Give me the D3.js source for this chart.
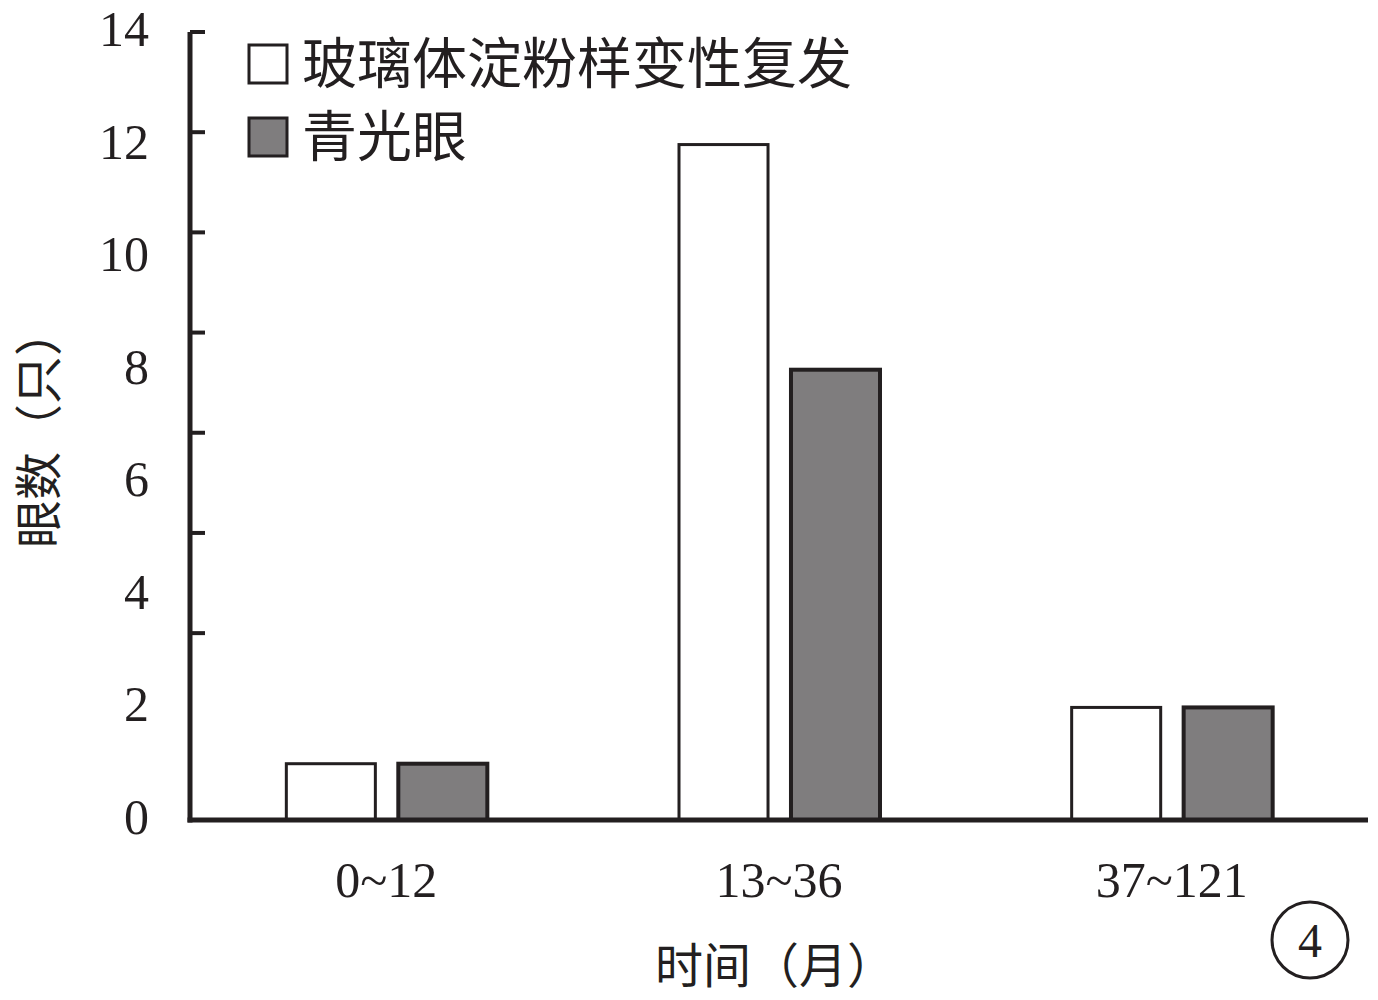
<!DOCTYPE html>
<html><head><meta charset="utf-8">
<script src="https://cdn.jsdelivr.net/npm/d3@7"></script>
<style>body{margin:0;background:#fff}</style>
</head><body>
<svg id="c" width="1378" height="1000"></svg>
<script>
const categories = ["0~12", "13~36", "37~121"];
const seriesNames = ["玻璃体淀粉样变性复发", "青光眼"];
const recurrence = [1, 12, 2];
const glaucoma = [1, 8, 2];
const yTickLabels = [0, 2, 4, 6, 8, 10, 12, 14];
const yTickMarks = [14, 12.22, 10.44, 8.66, 6.88, 5.1, 3.32];
const xTitle = "时间（月）";
const yTitle = "眼数（只）";
const panelMark = "4";

const svg = d3.select("#c");
const ink = "#231f20", grey = "#7f7d7e";
const serif = "'Liberation Serif','DejaVu Serif',serif";
const cjk = "'Noto Sans CJK SC','Noto Sans CJK JP',sans-serif";
const x0 = 190, x1 = 1368, yB = 820, yT = 32;

const x = d3.scaleBand().domain(categories).range([x0, x1]).padding(0);
const y = d3.scaleLinear().domain([0, 14]).range([yB, yT]);
const xs = d3.scaleBand().domain(seriesNames).range([-100, 101]).paddingInner(0.205);

const fills = ["#ffffff", grey];
const data = [recurrence, glaucoma];

// bars
categories.forEach((c, i) => {
  seriesNames.forEach((s, j) => {
    const v = data[j][i];
    const cx = x(c) + x.bandwidth() / 2;
    svg.append("rect")
      .attr("x", cx + xs(s))
      .attr("y", y(v))
      .attr("width", xs.bandwidth())
      .attr("height", y(0) - y(v))
      .attr("fill", fills[j])
      .attr("stroke", ink)
      .attr("stroke-width", j === 0 ? 3 : 4);
  });
});

// axes
svg.append("line").attr("x1", x0).attr("x2", x0).attr("y1", y(14)).attr("y2", yB + 2.5)
  .attr("stroke", ink).attr("stroke-width", 5);
svg.append("line").attr("x1", x0 - 2.5).attr("x2", x1).attr("y1", yB).attr("y2", yB)
  .attr("stroke", ink).attr("stroke-width", 5);
svg.selectAll(".tm").data(yTickMarks).enter().append("line")
  .attr("x1", x0).attr("x2", x0 + 15)
  .attr("y1", d => y(d)).attr("y2", d => y(d))
  .attr("stroke", ink).attr("stroke-width", 4);

svg.selectAll(".yl").data(yTickLabels).enter().append("text")
  .attr("x", 149).attr("y", d => y(d) - 3)
  .attr("text-anchor", "end").attr("dominant-baseline", "central")
  .attr("font-family", serif).attr("font-size", 50).attr("fill", ink)
  .text(d => d);

svg.selectAll(".xl").data(categories).enter().append("text")
  .attr("x", d => x(d) + x.bandwidth() / 2).attr("y", 897)
  .attr("text-anchor", "middle")
  .attr("font-family", serif).attr("font-size", 50).attr("fill", ink)
  .text(d => d);

// titles
svg.append("text").attr("x", 775).attr("y", 983).attr("text-anchor", "middle")
  .attr("font-family", cjk).attr("font-size", 48).attr("fill", ink).text(xTitle);
svg.append("text").attr("transform", "translate(56,428) rotate(-90)")
  .attr("text-anchor", "middle")
  .attr("font-family", cjk).attr("font-size", 48).attr("fill", ink).text(yTitle);

// legend
seriesNames.forEach((s, j) => {
  const top = 45 + j * 73;
  svg.append("rect").attr("x", 249).attr("y", top).attr("width", 38).attr("height", 38)
    .attr("fill", fills[j]).attr("stroke", ink).attr("stroke-width", 3);
  svg.append("text").attr("x", 302).attr("y", top + 38)
    .attr("font-family", cjk).attr("font-size", 55).attr("fill", ink).text(s);
});

// panel mark
svg.append("circle").attr("cx", 1310).attr("cy", 940).attr("r", 38)
  .attr("fill", "none").attr("stroke", ink).attr("stroke-width", 3);
svg.append("text").attr("x", 1310).attr("y", 940).attr("text-anchor", "middle")
  .attr("dominant-baseline", "central")
  .attr("font-family", serif).attr("font-size", 48).attr("fill", ink).text(panelMark);
</script>
</body></html>
